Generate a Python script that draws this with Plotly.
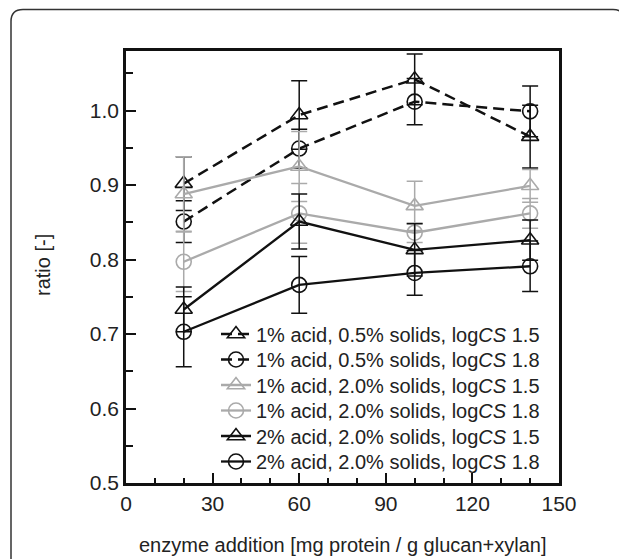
import plotly.graph_objects as go

enzyme = [20, 60, 100, 140]

names = [
    "1% acid, 0.5% solids, log<i>CS</i> 1.5",
    "1% acid, 0.5% solids, log<i>CS</i> 1.8",
    "1% acid, 2.0% solids, log<i>CS</i> 1.5",
    "1% acid, 2.0% solids, log<i>CS</i> 1.8",
    "2% acid, 2.0% solids, log<i>CS</i> 1.5",
    "2% acid, 2.0% solids, log<i>CS</i> 1.8",
]

s1 = [0.902, 0.994, 1.042, 0.965]
s1_err = [0.036, 0.046, 0.034, 0.042]
s2 = [0.851, 0.949, 1.012, 0.999]
s2_err = [0.028, 0.026, 0.031, 0.034]
s3 = [0.888, 0.925, 0.872, 0.899]
s3_err = [0.050, 0.047, 0.033, 0.022]
s4 = [0.797, 0.862, 0.836, 0.862]
s4_err = [0.040, 0.040, 0.013, 0.020]
s5 = [0.733, 0.851, 0.813, 0.826]
s5_err = [0.030, 0.037, 0.035, 0.027]
s6 = [0.703, 0.766, 0.782, 0.791]
s6_err = [0.047, 0.038, 0.030, 0.034]

values = [s1, s2, s3, s4, s5, s6]
errors = [s1_err, s2_err, s3_err, s4_err, s5_err, s6_err]

BLACK = "#111111"
GRAY = "#aaaaaa"
styles = [
    dict(color=BLACK, dash="11px,6px", symbol="triangle-up-open", width=2.5),
    dict(color=BLACK, dash="11px,6px", symbol="circle-open", width=2.5),
    dict(color=GRAY, dash="solid", symbol="triangle-up-open", width=2.3),
    dict(color=GRAY, dash="solid", symbol="circle-open", width=2.3),
    dict(color=BLACK, dash="solid", symbol="triangle-up-open", width=2.3),
    dict(color=BLACK, dash="solid", symbol="circle-open", width=2.3),
]

FONT = "Liberation Sans, Arial, sans-serif"
TXT = "#222222"

# page body has an 8px margin; work in window pixels and subtract it
OFF = 8
W, H = 627 - OFF, 559 - OFF
PL, PR, PT, PB = 126, 559, 51, 483  # plot area in window pixels
L, T = PL - OFF, PT - OFF
R, B = W - (PR - OFF), H - (PB - OFF)
pw, ph = PR - PL, PB - PT

def px(x):
    return (x - PL) / pw

def py(y):
    return (PB - y) / ph

legend_rows = [334, 359.5, 385, 410.5, 436, 461.5]
legend_ids = ["legend", "legend2", "legend3", "legend4", "legend5", "legend6"]

fig = go.Figure()
for name, vals, errs, st, lid in zip(names, values, errors, styles, legend_ids):
    fig.add_trace(go.Scatter(
        x=enzyme, y=vals, name=name, mode="lines+markers", legend=lid,
        line=dict(color=st["color"], width=st["width"], dash=st["dash"]),
        marker=dict(symbol=st["symbol"], size=15, color=st["color"], line=dict(width=1.6, color=st["color"])),
        error_y=dict(type="data", array=errs, visible=True, color=st["color"], thickness=1.5, width=8),
    ))

legend_layout = {}
for lid, row in zip(legend_ids, legend_rows):
    legend_layout[lid] = dict(
        x=px(216), y=py(row), xanchor="left", yanchor="middle",
        bgcolor="rgba(0,0,0,0)", borderwidth=0,
        font=dict(family=FONT, size=20, color=TXT), itemwidth=30,
    )

# outer rounded frame
x0, x1, y0, y1, r = 11, 625, 9.5, 600, 12
path = (f"M {px(x0)},{py(y0 + r)} Q {px(x0)},{py(y0)} {px(x0 + r)},{py(y0)} "
        f"L {px(x1 - r)},{py(y0)} Q {px(x1)},{py(y0)} {px(x1)},{py(y0 + r)} "
        f"L {px(x1)},{py(y1)} L {px(x0)},{py(y1)} Z")

fig.update_layout(
    width=W, height=H,
    margin=dict(l=L, r=R, t=T, b=B, pad=0),
    paper_bgcolor="white", plot_bgcolor="white",
    font=dict(family=FONT, size=20, color=TXT),
    showlegend=True,
    shapes=[dict(type="path", path=path, xref="paper", yref="paper",
                 line=dict(color="#333333", width=1.5), fillcolor="rgba(0,0,0,0)", layer="below")],
    annotations=[
        dict(text="enzyme addition [mg protein / g glucan+xylan]", xref="paper", yref="paper",
             x=px(342), y=py(545), showarrow=False, xanchor="center", yanchor="middle",
             font=dict(family=FONT, size=20, color=TXT)),
        dict(text="ratio [-]", xref="paper", yref="paper", textangle=-90,
             x=px(43), y=py(265), showarrow=False, xanchor="center", yanchor="middle",
             font=dict(family=FONT, size=20, color=TXT)),
    ],
    **legend_layout,
)

fig.update_xaxes(
    range=[0, 150], tick0=0, dtick=30, ticks="inside", ticklen=10, tickwidth=2, tickcolor=BLACK,
    minor=dict(dtick=10, ticks="inside", ticklen=5, tickwidth=2, tickcolor=BLACK),
    showline=True, linewidth=2.5, linecolor=BLACK, mirror=True, showgrid=False, zeroline=False,
    tickfont=dict(family=FONT, size=21, color=TXT), ticklabelstandoff=0,
)
fig.update_yaxes(
    range=[0.5, 1.08], tick0=0.5, dtick=0.1, tickformat=".1f",
    ticks="inside", ticklen=10, tickwidth=2, tickcolor=BLACK,
    minor=dict(dtick=0.05, ticks="inside", ticklen=7, tickwidth=2, tickcolor=BLACK),
    showline=True, linewidth=2.5, linecolor=BLACK, mirror=True, showgrid=False, zeroline=False,
    tickfont=dict(family=FONT, size=21, color=TXT), ticklabelstandoff=0,
)

fig.write_html("out.html")
